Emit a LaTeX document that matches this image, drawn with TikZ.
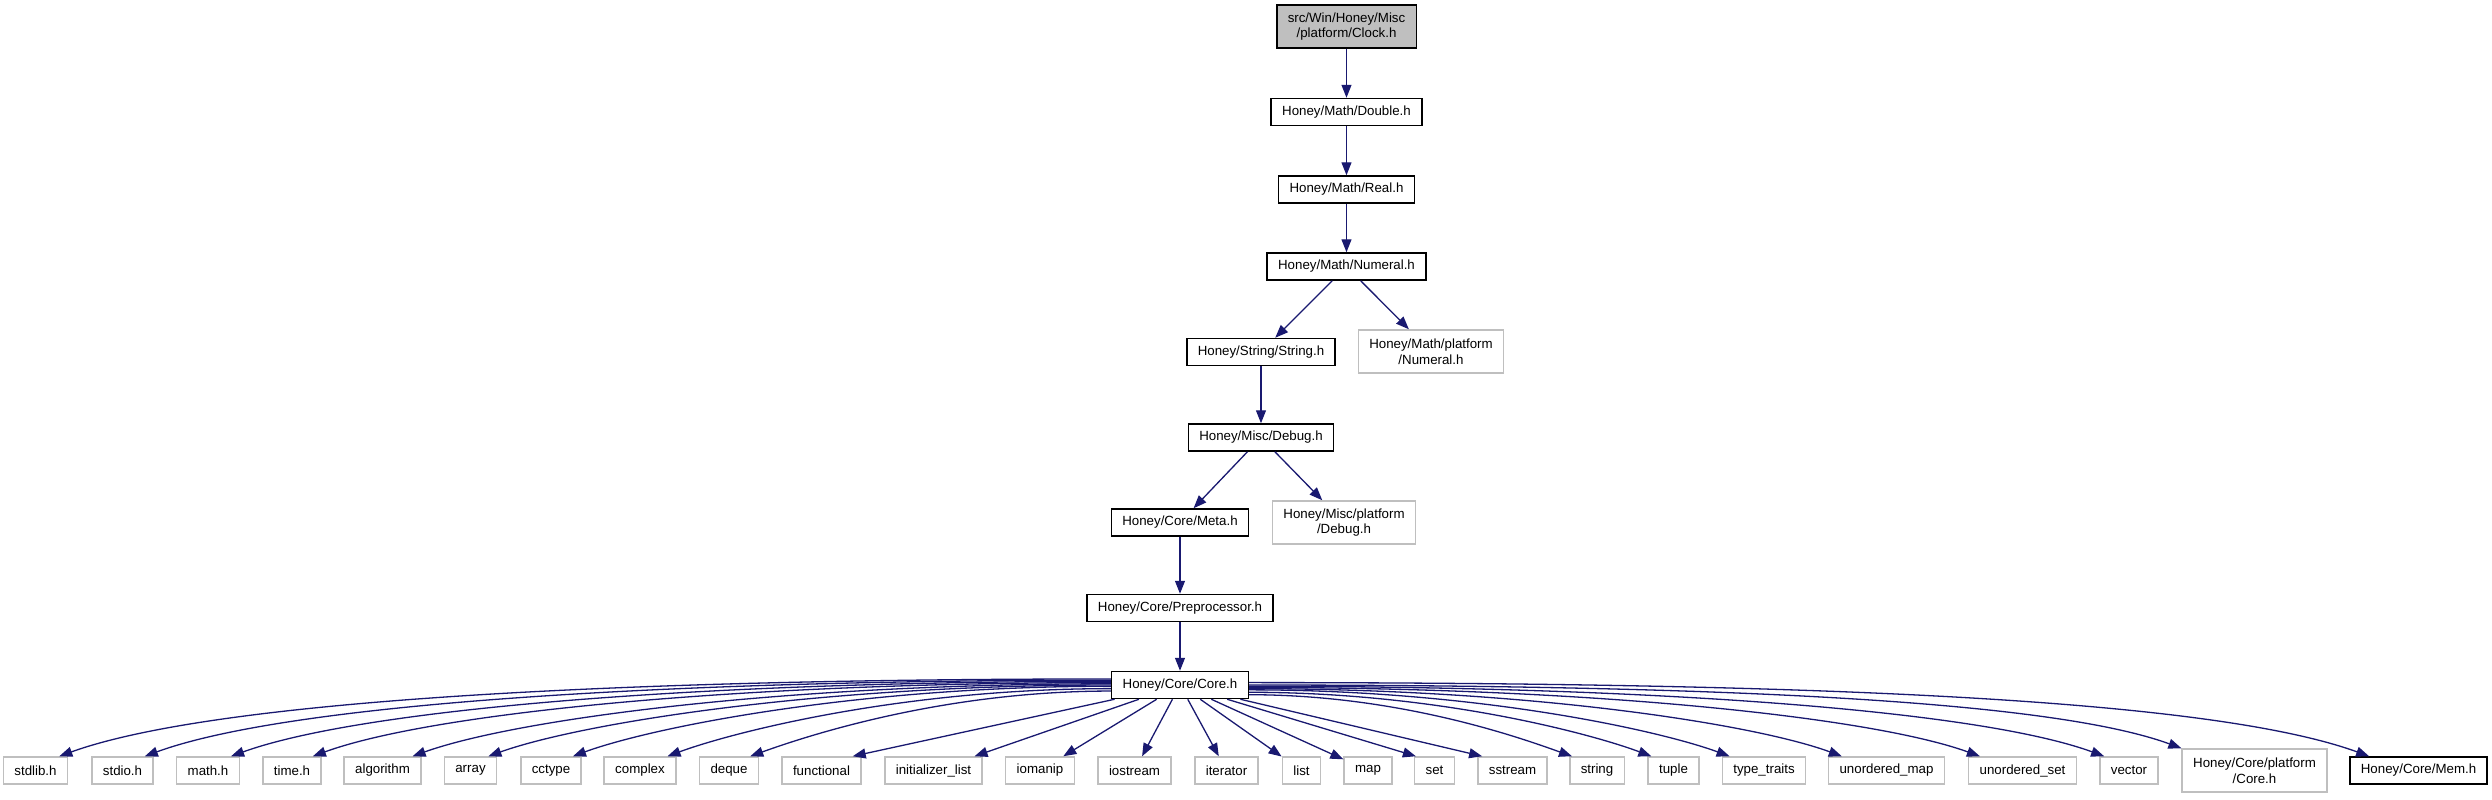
\documentclass[tikz,border=0pt]{standalone}
\usepackage{fontspec}
\setmainfont{Liberation Sans}
\usepackage{xcolor}
\usepackage{tikz}
\usetikzlibrary{arrows.meta, positioning, calc}
\definecolor{edgeblue}{HTML}{191970}

\begin{document}
\begin{tikzpicture}[x=1pt, y=1pt,
    header/.style={rectangle, draw=black, line width=1.5pt, fill=white, minimum height=27pt, inner xsep=11pt, inner ysep=2pt, align=center, font=\fontsize{13.3}{15.5}\selectfont},
    syshead/.style={header, draw=gray!50},
    twoline/.style={minimum height=43pt},
    rootfile/.style={header, fill=gray!50},
    dep/.style={draw=edgeblue, line width=1.3pt, -{Triangle[length=13pt, width=10pt]}}
]
\useasboundingbox (0,0) rectangle (2492,-800);

% Headers
\node[rootfile, twoline] (clock) at (1346.5,-26.5) {src/Win/Honey/Misc\\/platform/Clock.h};
\node[header] (double) at (1346.5,-112) {Honey/Math/Double.h};
\node[header] (real) at (1346.5,-189.5) {Honey/Math/Real.h};
\node[header] (numeral) at (1346.5,-266.5) {Honey/Math/Numeral.h};
\node[header] (hstring) at (1261,-352) {Honey/String/String.h};
\node[syshead, twoline] (numplat) at (1431,-351.5) {Honey/Math/platform\\/Numeral.h};
\node[header] (debug) at (1261,-437.5) {Honey/Misc/Debug.h};
\node[header] (meta) at (1180,-522.5) {Honey/Core/Meta.h};
\node[syshead, twoline] (debugplat) at (1344,-522.5) {Honey/Misc/platform\\/Debug.h};
\node[header] (preproc) at (1180,-608) {Honey/Core/Preprocessor.h};
\node[header] (core) at (1180,-685) {Honey/Core/Core.h};

% Standard headers
\node[syshead] (stdlib) at (35.5,-770.5) {stdlib.h};
\node[syshead] (stdio) at (122.5,-770.5) {stdio.h};
\node[syshead] (mathh) at (208,-770.5) {math.h};
\node[syshead] (timeh) at (292,-770.5) {time.h};
\node[syshead] (algorithm) at (382.5,-770.5) {algorithm};
\node[syshead] (array) at (470.5,-770.5) {array};
\node[syshead] (cctype) at (551,-770.5) {cctype};
\node[syshead] (complex) at (640,-770.5) {complex};
\node[syshead] (deque) at (729,-770.5) {deque};
\node[syshead] (functional) at (821.5,-770.5) {functional};
\node[syshead] (initlist) at (933.5,-770.5) {initializer\_list};
\node[syshead] (iomanip) at (1040,-770.5) {iomanip};
\node[syshead] (iostream) at (1134.5,-770.5) {iostream};
\node[syshead] (iterator) at (1226.5,-770.5) {iterator};
\node[syshead] (list) at (1301.5,-770.5) {list};
\node[syshead] (map) at (1368,-770.5) {map};
\node[syshead] (set) at (1434.5,-770.5) {set};
\node[syshead] (sstream) at (1512.5,-770.5) {sstream};
\node[syshead] (string) at (1597,-770.5) {string};
\node[syshead] (tuple) at (1673.5,-770.5) {tuple};
\node[syshead] (typetraits) at (1764,-770.5) {type\_traits};
\node[syshead] (umap) at (1886.5,-770.5) {unordered\_map};
\node[syshead] (uset) at (2022.5,-770.5) {unordered\_set};
\node[syshead] (vector) at (2129,-770.5) {vector};
\node[syshead, twoline] (coreplat) at (2254.5,-770.5) {Honey/Core/platform\\/Core.h};
\node[header] (mem) at (2418.5,-770.5) {Honey/Core/Mem.h};

% Includes
\draw[dep] (clock) -- (double);
\draw[dep] (double) -- (real);
\draw[dep] (real) -- (numeral);
\draw[dep] (numeral) -- (hstring);
\draw[dep] (numeral) -- (numplat);
\draw[dep] (hstring) -- (debug);
\draw[dep] (debug) -- (meta);
\draw[dep] (debug) -- (debugplat);
\draw[dep] (meta) -- (preproc);
\draw[dep] (preproc) -- (core);

\draw[dep] (core.175) .. controls +(-495,0) and +(155,56) .. ([xshift=-9pt]stdlib.north east);
\draw[dep] (core.176) .. controls +(-455,0) and +(142,52) .. ([xshift=-9pt]stdio.north east);
\draw[dep] (core.177) .. controls +(-415,0) and +(130,47) .. ([xshift=-9pt]mathh.north east);
\draw[dep] (core.178) .. controls +(-376,0) and +(118,43) .. ([xshift=-9pt]timeh.north east);
\draw[dep] (core.179) .. controls +(-329,0) and +(103,37) .. ([xshift=-9pt]algorithm.north east);
\draw[dep] (core.180) .. controls +(-293,0) and +(92,33) .. ([xshift=-9pt]array.north east);
\draw[dep] (core.181) .. controls +(-254,0) and +(79,29) .. ([xshift=-9pt]cctype.north east);
\draw[dep] (core.183) .. controls +(-209,0) and +(65,24) .. ([xshift=-9pt]complex.north east);
\draw[dep] (core.185) .. controls +(-171,0) and +(53,19) .. ([xshift=-9pt]deque.north east);
\draw[dep] (core) -- ([xshift=-9pt]functional.north east);
\draw[dep] (core) -- (initlist);
\draw[dep] (core) -- (iomanip);
\draw[dep] (core) -- (iostream);
\draw[dep] (core) -- (iterator);
\draw[dep] (core) -- (list);
\draw[dep] (core) -- (map);
\draw[dep] (core) -- ([xshift=2pt]set.north west);
\draw[dep] (core) -- ([xshift=5pt]sstream.north west);
\draw[dep] (core.352) .. controls +(153,0) and +(-48,17) .. ([xshift=3pt]string.north west);
\draw[dep] (core.354) .. controls +(190,0) and +(-59,22) .. ([xshift=4pt]tuple.north west);
\draw[dep] (core.356) .. controls +(227,0) and +(-71,26) .. ([xshift=8pt]typetraits.north west);
\draw[dep] (core.357) .. controls +(280,0) and +(-87,32) .. ([xshift=14pt]umap.north west);
\draw[dep] (core.358) .. controls +(344,0) and +(-108,39) .. ([xshift=12pt]uset.north west);
\draw[dep] (core.359) .. controls +(403,0) and +(-126,46) .. ([xshift=5pt]vector.north west);
\draw[dep] (core.0) .. controls +(439,0) and +(-137,50) .. (coreplat.north west);
\draw[dep] (core.2) .. controls +(527,0) and +(-165,60) .. ([xshift=20pt]mem.north west);
\end{tikzpicture}
\end{document}
